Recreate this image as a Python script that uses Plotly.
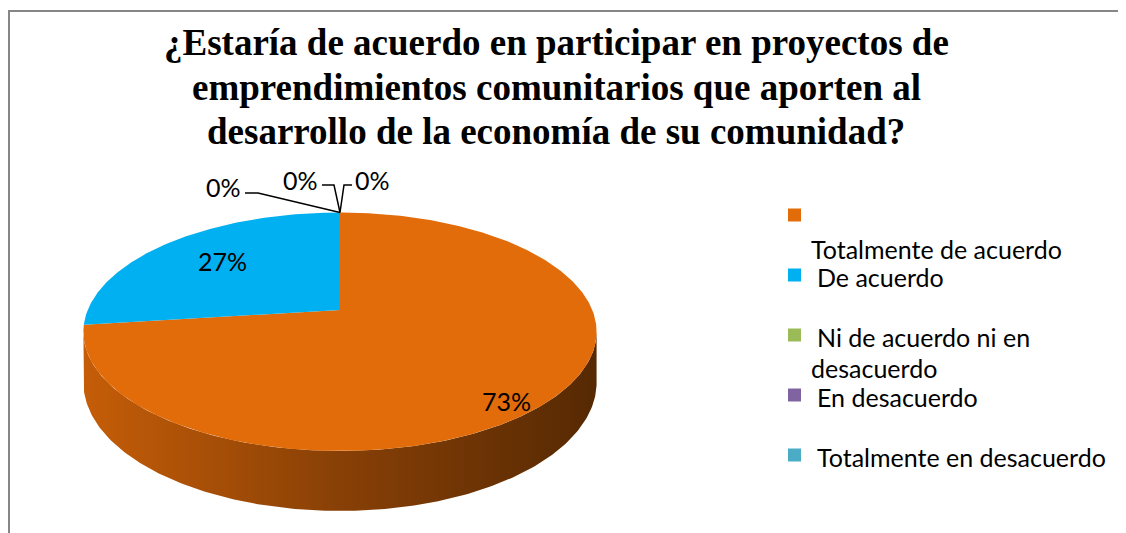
import numpy as np
import plotly.graph_objects as go

# ---------------- data ----------------
categories = ["Totalmente de acuerdo", "De acuerdo", "Ni de acuerdo ni en desacuerdo",
              "En desacuerdo", "Totalmente en desacuerdo"]
values = [73, 27, 0, 0, 0]
colors = ["#E36C0A", "#00B0F0", "#9BBB59", "#8064A2", "#4BACC6"]
title_lines = ["¿Estaría de acuerdo en participar en proyectos de",
               "emprendimientos comunitarios que aporten al",
               "desarrollo de la economía de su comunidad?"]

# ---------------- geometry of the 3-D pie (pixel space) ----------------
W, H = 1126, 533
OFF = 8                    # page body margin
CX, CY = 340.0, 310.0      # projected centre of the top face
A, B = 252.3, 115.3        # horizontal / vertical radii
K = 0.1824                 # perspective factor
DEPTH = 49.0               # thickness


def proj(phi_deg, r=1.0, drop=0.0):
    phi = np.radians(phi_deg)
    u = r * np.sin(phi)
    v = r * np.cos(phi)
    s = 1.0 / (1.0 + K * v)
    return CX + A * u * s, CY - B * v * s + drop * DEPTH * s


def shade(hexcol, f):
    h = hexcol.lstrip("#")
    r, g, b = (int(h[i:i + 2], 16) for i in (0, 2, 4))
    return "#%02x%02x%02x" % (int(r * f), int(g * f), int(b * f))


total = float(sum(values))
cum = np.concatenate([[0.0], np.cumsum(values)]) / total * 360.0
front_lo = np.degrees(np.arccos(-K))
front_hi = 360.0 - front_lo

fig = go.Figure()

# side walls
for i, v in enumerate(values):
    if v <= 0:
        continue
    lo, hi = max(cum[i], front_lo), min(cum[i + 1], front_hi)
    if hi <= lo:
        continue
    ang = np.linspace(lo, hi, 200)
    xt, yt = proj(ang)
    xb, yb = proj(ang[::-1], drop=1.0)
    fig.add_trace(go.Scatter(
        x=np.concatenate([xt, xb, xt[:1]]), y=np.concatenate([yt, yb, yt[:1]]),
        mode="lines", line=dict(width=0), fill="toself",
        fillgradient=dict(type="horizontal",
                          colorscale=[[0, shade(colors[i], 0.87)],
                                      [0.5, shade(colors[i], 0.60)],
                                      [1, shade(colors[i], 0.38)]]),
        hoverinfo="skip", showlegend=False))

# top faces
for i, v in enumerate(values):
    if v <= 0:
        continue
    ang = np.linspace(cum[i], cum[i + 1], max(3, int(v * 6)))
    xa, ya = proj(ang)
    fig.add_trace(go.Scatter(
        x=np.concatenate([[CX], xa, [CX]]), y=np.concatenate([[CY], ya, [CY]]),
        mode="lines", line=dict(width=0), fill="toself", fillcolor=colors[i],
        name=categories[i], hoverinfo="name", showlegend=False))

# ---------------- data labels ----------------
label_pos = [(506, 401), (222, 261), (223, 187), (300, 180), (372, 180)]
label_font = dict(family="Lato, Carlito, Calibri, sans-serif", size=25, color="black")
annotations = []
for (lx, ly), v in zip(label_pos, values):
    annotations.append(dict(x=lx, y=ly, xref="x", yref="y", text=f"{v}%",
                            showarrow=False, font=label_font))

# leader lines for the 0 % slices (to the top rim point of those slices)
tx, ty = proj(cum[2])
leaders = [((245, 193), (258, 193)), ((322, 185), (334, 185)), ((352, 185), (344, 185))]
for (p0, p1) in leaders:
    fig.add_trace(go.Scatter(x=[p0[0], p1[0], float(tx)], y=[p0[1], p1[1], float(ty)],
                             mode="lines", line=dict(color="black", width=1.5),
                             hoverinfo="skip", showlegend=False))

# ---------------- title ----------------
title_font = dict(family="Liberation Serif, Times New Roman, serif", size=37, color="black")
for line, ty_ in zip(title_lines, [42, 87, 131]):
    annotations.append(dict(x=556, y=ty_, xref="x", yref="y", text="<b>" + line + "</b>",
                            showarrow=False, xanchor="center", yanchor="middle",
                            font=title_font))

# ---------------- legend (custom) ----------------
legend_sq_y = [215, 275, 335, 395, 455]
legend_txt = [[("Totalmente de acuerdo", 809, 249)],
              [("De acuerdo", 815, 277)],
              [("Ni de acuerdo ni en", 815, 337), ("desacuerdo", 809, 368)],
              [("En desacuerdo", 815, 397)],
              [("Totalmente en desacuerdo", 815, 457)]]
shapes = []
for i, sy in enumerate(legend_sq_y):
    shapes.append(dict(type="rect", xref="x", yref="y", x0=788, x1=801, y0=sy - 6.5, y1=sy + 6.5,
                       fillcolor=colors[i], line=dict(width=0)))
    for txt, lx, ly in legend_txt[i]:
        annotations.append(dict(x=lx, y=ly, xref="x", yref="y", text=txt, showarrow=False,
                                xanchor="left", yanchor="middle", font=label_font))

# chart-area frame (left edge kept just inside the drawable area)
shapes.append(dict(type="line", xref="x", yref="y", x0=OFF, x1=W + OFF, y0=11, y1=11,
                   line=dict(color="#868686", width=2)))
shapes.append(dict(type="line", xref="x", yref="y", x0=OFF + 1, x1=OFF + 1, y0=10, y1=H + OFF,
                   line=dict(color="#868686", width=2)))

fig.update_layout(
    width=W, height=H, margin=dict(l=0, r=0, t=0, b=0),
    paper_bgcolor="white", plot_bgcolor="white",
    xaxis=dict(range=[OFF, W + OFF], visible=False, fixedrange=True),
    yaxis=dict(range=[H + OFF, OFF], visible=False, fixedrange=True),
    annotations=annotations, shapes=shapes, showlegend=False,
)

fig.write_html("out.html")
